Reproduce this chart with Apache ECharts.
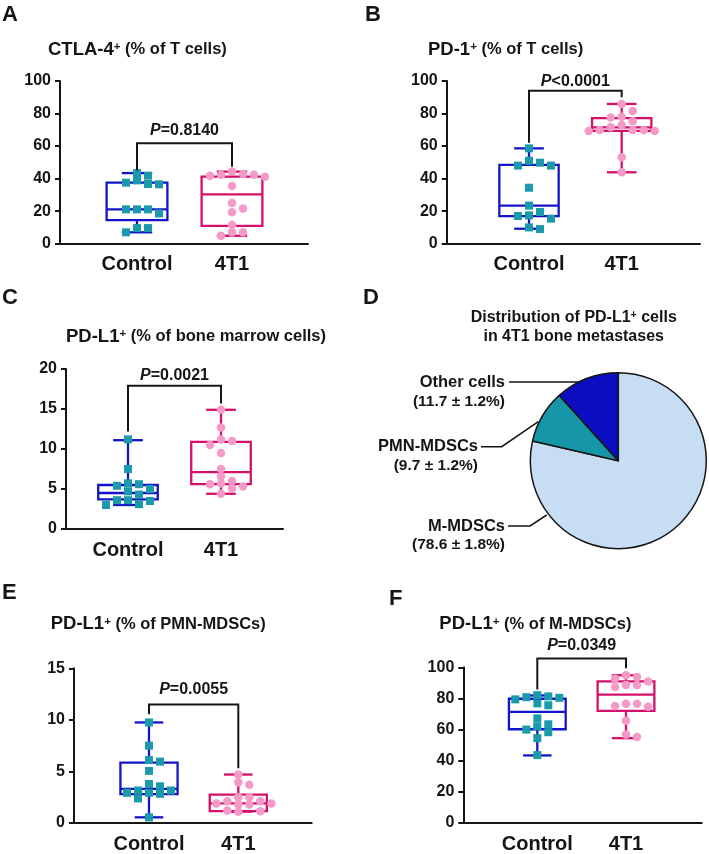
<!DOCTYPE html>
<html><head><meta charset="utf-8">
<script src="https://cdn.jsdelivr.net/npm/echarts@6/dist/echarts.min.js"></script>
<style>html,body{margin:0;padding:0;background:#fff}#c{width:709px;height:854px}</style>
</head><body><div id="c"></div>
<script>
// ---------------- DATA ----------------
const groups = ['Control', '4T1'];

// Panel A: CTLA-4+ (% of T cells)
const aTicks = [0, 20, 40, 60, 80, 100];
const aControl = [43.4, 41.8, 38.9, 37.5, 36.7, 36.5, 21.1, 21.1, 21.1, 18.6, 9.6, 9.6, 7.0];
const a4T1 = [44.3, 42.8, 42.4, 42.4, 41.8, 41.2, 35.5, 25.0, 21.7, 19.3, 11.5, 7.0, 7.0, 4.9];
const aBoxControl = [7.0, 14.5, 21.1, 37.5, 43.4];   // min, q1, median, q3, max
const aBox4T1 = [4.9, 10.9, 30.3, 41.2, 44.3];
const aBracket = [45, 61.7, 47.3];
const aP = '=0.8140';

// Panel B: PD-1+ (% of T cells)
const bTicks = [0, 20, 40, 60, 80, 100];
const bControl = [58.6, 51.0, 49.8, 48.0, 48.0, 34.4, 23.4, 19.5, 17.4, 17.0, 15.4, 10.0, 9.0];
const b4T1 = [85.9, 81.6, 78.1, 77.5, 75.2, 73.0, 71.5, 69.9, 69.9, 69.9, 69.3, 69.3, 53.1, 43.9];
const bBoxControl = [9.2, 17.0, 23.4, 48.4, 58.6];
const bBox4T1 = [43.9, 69.3, 71.5, 77.2, 85.9];
const bBracket = [62, 94, 90];
const bP = '<0.0001';

// Panel C: PD-L1+ (% of bone marrow cells)
const cTicks = [0, 5, 10, 15, 20];
const cControl = [11.2, 7.5, 5.7, 5.6, 5.4, 5.0, 4.7, 4.3, 3.6, 3.6, 3.5, 3.1, 3.0];
const c4T1 = [14.9, 12.7, 11.2, 11.0, 10.5, 9.5, 7.5, 6.6, 6.0, 5.7, 5.6, 5.3, 5.1, 4.4];
const cBoxControl = [3.0, 3.7, 4.5, 5.5, 11.1];
const cBox4T1 = [4.4, 5.6, 7.1, 10.9, 14.9];
const cBracket = [12.2, 17.9, 15.7];
const cP = '=0.0021';

// Panel D: distribution of PD-L1+ cells
const pieNames = ['M-MDSCs', 'PMN-MDSCs', 'Other cells'];
const pieValues = [78.6, 9.7, 11.7];
const pieSD = [1.8, 1.2, 1.2];

// Panel E: PD-L1+ (% of PMN-MDSCs)
const eTicks = [0, 5, 10, 15];
const eControl = [9.75, 7.5, 6.1, 5.95, 5.05, 3.78, 3.56, 3.15, 3.15, 2.93, 2.93, 2.83, 2.38, 0.54];
const e4T1 = [4.7, 3.95, 3.7, 2.5, 2.5, 2.1, 2.1, 1.9, 1.9, 1.8, 1.8, 1.2, 1.15, 1.1];
const eBoxControl = [0.55, 2.8, 3.3, 5.85, 9.75];
const eBox4T1 = [1.1, 1.15, 1.9, 2.75, 4.7];
const eBracket = [10.55, 11.5, 5.3];
const eP = '=0.0055';

// Panel F: PD-L1+ (% of M-MDSCs)
const fTicks = [0, 20, 40, 60, 80, 100];
const fControl = [82.1, 81.3, 80.8, 80.4, 79.4, 76.8, 75.6, 67.2, 63.4, 62.1, 60.0, 58.3, 54.5, 43.6];
const f4T1 = [94.9, 93.7, 92.6, 90.9, 88.6, 88.6, 87.4, 76.6, 76.6, 75.2, 74.7, 65.7, 56.8, 55.2];
const fBoxControl = [43.4, 60.2, 71.4, 79.8, 81.9];
const fBox4T1 = [54.5, 72.0, 82.5, 90.9, 94.9];
const fBracket = [85.7, 105.7, 99.4];
const fP = '=0.0349';

// ---------------- STYLE / LAYOUT ----------------
const FF = '"Liberation Sans", Arial, Helvetica, sans-serif';
const INK = '#151515';
const CTRL_LINE = '#1414c8', CTRL_PT = '#1a9aaa';
const T_LINE = '#d5106b', T_PT = '#f59ac8';
const PIE_COLORS = ['#c7ddf4', '#1597a9', '#0c0cc0'];

const panels = [
  {letter: 'A', lx: 2, ly: 14.5, title: ['CTLA-4', ' (% of T cells)'], tx: 48, ty: 49.7,
   ctrl: aControl, tum: a4T1, boxC: aBoxControl, boxT: aBox4T1, br: aBracket, p: aP, gap: 13, ticks: aTicks,
   grid: {left: 60, top: 81, width: 248, height: 162.7}, x0: 77, step: 95},
  {letter: 'B', lx: 365, ly: 14.5, title: ['PD-1', ' (% of T cells)'], tx: 428, ty: 49.7,
   ctrl: bControl, tum: b4T1, boxC: bBoxControl, boxT: bBox4T1, br: bBracket, p: bP, gap: 9.5, ticks: bTicks,
   grid: {left: 446.7, top: 81, width: 253.3, height: 162.7}, x0: 82.3, step: 92.7},
  {letter: 'C', lx: 2, ly: 297.5, title: ['PD-L1', ' (% of bone marrow cells)'], tx: 66, ty: 336.7,
   ctrl: cControl, tum: c4T1, boxC: cBoxControl, boxT: cBox4T1, br: cBracket, p: cP, gap: 10, ticks: cTicks,
   grid: {left: 66, top: 369, width: 217, height: 160}, x0: 62, step: 93},
  {letter: 'E', lx: 2, ly: 593.3, title: ['PD-L1', ' (% of PMN-MDSCs)'], tx: 50.7, ty: 624,
   ctrl: eControl, tum: e4T1, boxC: eBoxControl, boxT: eBox4T1, br: eBracket, p: eP, gap: 14.5, ticks: eTicks,
   grid: {left: 74, top: 668.3, width: 237.7, height: 157.4}, x0: 75, step: 89.3},
  {letter: 'F', lx: 389, ly: 598.8, title: ['PD-L1', ' (% of M-MDSCs)'], tx: 439.3, ty: 624,
   ctrl: fControl, tum: f4T1, boxC: fBoxControl, boxT: fBox4T1, br: fBracket, p: fP, gap: 13.3, ticks: fTicks,
   grid: {left: 463.3, top: 667.3, width: 238.4, height: 158.4}, x0: 74, step: 88.7}
];

const BOX_W = 0.64;     // in category spacing units
const CAP_RATIO = 0.5;

// beeswarm-like horizontal spreading (layout only)
function swarm(vals, cx, pxX, pxY, step, thr) {
  const order = vals.map((v, i) => i).sort((a, b) => vals[b] - vals[a]);
  const placed = [], out = new Array(vals.length);
  for (const i of order) {
    const py = vals[i] * pxY;
    for (let k = 0; k < 60; k++) {
      const m = k === 0 ? 0 : (k % 2 ? Math.ceil(k / 2) : -k / 2);
      const px = m * step;
      if (placed.every(q => Math.abs(q[0] - px) >= step * 0.9 || Math.abs(q[1] - py) >= thr)) {
        placed.push([px, py]);
        out[i] = [cx + px / pxX, vals[i]];
        break;
      }
    }
  }
  return out;
}

function boxRenderer(color) {
  return function (params, api) {
    const x = api.value(0);
    const pLo = api.coord([x, api.value(1)]);
    const pQ1 = api.coord([x, api.value(2)]);
    const pMd = api.coord([x, api.value(3)]);
    const pQ3 = api.coord([x, api.value(4)]);
    const pHi = api.coord([x, api.value(5)]);
    const hw = api.size([BOX_W, 0])[0] / 2;
    const cw = hw * CAP_RATIO;
    const cx = pMd[0];
    const st = {stroke: color, lineWidth: 2.3, fill: 'none'};
    return {type: 'group', children: [
      {type: 'line', shape: {x1: cx, y1: pQ3[1], x2: cx, y2: pHi[1]}, style: st},
      {type: 'line', shape: {x1: cx, y1: pQ1[1], x2: cx, y2: pLo[1]}, style: st},
      {type: 'line', shape: {x1: cx - cw, y1: pHi[1], x2: cx + cw, y2: pHi[1]}, style: st},
      {type: 'line', shape: {x1: cx - cw, y1: pLo[1], x2: cx + cw, y2: pLo[1]}, style: st},
      {type: 'rect', shape: {x: cx - hw, y: pQ3[1], width: 2 * hw, height: pQ1[1] - pQ3[1]}, style: st},
      {type: 'line', shape: {x1: cx - hw, y1: pMd[1], x2: cx + hw, y2: pMd[1]}, style: st}
    ]};
  };
}

const pRich = {
  i: {fontSize: 16, fontWeight: 'bold', fontStyle: 'italic', fontFamily: FF, fill: INK},
  n: {fontSize: 16, fontWeight: 'bold', fontFamily: FF, fill: INK}
};

function bracketRenderer(pText, gap) {
  return function (params, api) {
    const pL = api.coord([api.value(0), api.value(1)]);
    const pT1 = api.coord([api.value(0), api.value(2)]);
    const pT2 = api.coord([api.value(3), api.value(2)]);
    const pR = api.coord([api.value(3), api.value(4)]);
    return {type: 'group', children: [
      {type: 'polyline', shape: {points: [pL, pT1, pT2, pR]}, style: {stroke: INK, lineWidth: 2, fill: 'none'}},
      {type: 'text', style: {text: '{i|P}{n|' + pText + '}', rich: pRich,
        x: (pT1[0] + pT2[0]) / 2, y: pT1[1] - gap, align: 'center', verticalAlign: 'middle'}}
    ]};
  };
}

const grids = [], xAxes = [], yAxes = [], series = [], graphics = [];

const titleRich = {
  a: {fontSize: 18.5, fontWeight: 'bold', fontFamily: FF, fill: INK, lineHeight: 22},
  s: {fontSize: 11.5, fontWeight: 'bold', fontFamily: FF, fill: INK, padding: [0, 0, 5, 0]},
  b: {fontSize: 16.5, fontWeight: 'bold', fontFamily: FF, fill: INK, lineHeight: 22}
};

panels.forEach((P, gi) => {
  grids.push(Object.assign({containLabel: false}, P.grid));
  const xmin = 1 - P.x0 / P.step;
  const xmax = xmin + P.grid.width / P.step;
  xAxes.push({
    type: 'value', gridIndex: gi, min: xmin, max: xmax,
    axisLine: {show: true, onZero: false, lineStyle: {color: INK, width: 2}},
    axisTick: {show: false}, splitLine: {show: false},
    axisLabel: {customValues: [1, 2], formatter: v => groups[Math.round(v) - 1] || '',
      fontSize: 20, fontWeight: 'bold', color: INK, fontFamily: FF, margin: 11}
  });
  const ymin = P.ticks[0], ymax = P.ticks[P.ticks.length - 1];
  yAxes.push({
    type: 'value', gridIndex: gi, min: ymin, max: ymax, interval: P.ticks[1] - P.ticks[0],
    axisLine: {show: true, onZero: false, lineStyle: {color: INK, width: 2}},
    axisTick: {show: true, inside: false, length: 5, lineStyle: {color: INK, width: 2}},
    splitLine: {show: false},
    axisLabel: {fontSize: 16, fontWeight: 'bold', color: INK, fontFamily: FF, margin: 9}
  });
  const pxX = P.step, pxY = P.grid.height / (ymax - ymin);

  series.push({type: 'custom', xAxisIndex: gi, yAxisIndex: gi, silent: true, z: 2,
    renderItem: boxRenderer(CTRL_LINE), data: [[1].concat(P.boxC)]});
  series.push({type: 'custom', xAxisIndex: gi, yAxisIndex: gi, silent: true, z: 2,
    renderItem: boxRenderer(T_LINE), data: [[2].concat(P.boxT)]});
  series.push({type: 'scatter', xAxisIndex: gi, yAxisIndex: gi, silent: true, z: 3,
    symbol: 'rect', symbolSize: 8, itemStyle: {color: CTRL_PT, opacity: 1},
    data: swarm(P.ctrl, 1, pxX, pxY, 11, 7)});
  series.push({type: 'scatter', xAxisIndex: gi, yAxisIndex: gi, silent: true, z: 3,
    symbol: 'circle', symbolSize: 8.5, itemStyle: {color: T_PT, opacity: 1},
    data: swarm(P.tum, 2, pxX, pxY, 11, 7)});
  series.push({type: 'custom', xAxisIndex: gi, yAxisIndex: gi, silent: true, z: 4, clip: false,
    renderItem: bracketRenderer(P.p, P.gap), data: [[1, P.br[0], P.br[1], 2, P.br[2]]]});

  graphics.push({type: 'text', style: {text: P.letter, x: P.lx, y: P.ly,
    fontSize: 22, fontWeight: 'bold', fontFamily: FF, fill: INK, verticalAlign: 'middle'}});
  graphics.push({type: 'text', style: {text: '{a|' + P.title[0] + '}{s|+}{b|' + P.title[1] + '}',
    rich: titleRich, x: P.tx, y: P.ty, verticalAlign: 'middle'}});
});

// Panel D letter and title
graphics.push({type: 'text', style: {text: 'D', x: 363, y: 297.5,
  fontSize: 22, fontWeight: 'bold', fontFamily: FF, fill: INK, verticalAlign: 'middle'}});
graphics.push({type: 'text', style: {
  text: '{t|Distribution of PD-L1}{s|+}{t| cells}\n{t|in 4T1 bone metastases}',
  rich: {
    t: {fontSize: 16, fontWeight: 'bold', fontFamily: FF, fill: INK, lineHeight: 18.5},
    s: {fontSize: 10.5, fontWeight: 'bold', fontFamily: FF, fill: INK, padding: [0, 0, 5, 0]}
  },
  x: 573.7, y: 327, align: 'center', verticalAlign: 'middle'}});

// label placement for pie (layout only)
const pieLabelPos = [
  {x: 505, y: 526, line: [[546.7, 515], [530, 526], [508, 526]]},
  {x: 478, y: 446.7, line: [[538.3, 421.7], [501.7, 446.7], [481, 446.7]]},
  {x: 505, y: 382.5, line: [[582.5, 384], [580, 382], [509, 382]]}
];

series.push({
  type: 'pie', center: [618.3, 460.7], radius: 88, startAngle: 90, clockwise: true,
  silent: true, avoidLabelOverlap: false,
  itemStyle: {borderColor: INK, borderWidth: 1.5},
  data: pieNames.map((n, i) => ({name: n, value: pieValues[i], itemStyle: {color: PIE_COLORS[i]}})),
  label: {
    show: true, position: 'outside',
    formatter: p => '{n|' + p.name + '}\n{v|(' + p.value + ' \u00b1 ' + pieSD[p.dataIndex] + '%)}',
    rich: {
      n: {fontSize: 16.5, fontWeight: 'bold', fontFamily: FF, color: INK, lineHeight: 19, align: 'right'},
      v: {fontSize: 15.5, fontWeight: 'bold', fontFamily: FF, color: INK, lineHeight: 19, align: 'right'}
    }
  },
  labelLine: {show: true, lineStyle: {color: INK, width: 1.5}},
  labelLayout: function (params) {
    const L = pieLabelPos[params.dataIndex];
    return {x: L.x, y: L.y - 9.5, align: 'right', verticalAlign: 'top', labelLinePoints: L.line};
  },
  emphasis: {disabled: true}
});

const chart = echarts.init(document.getElementById('c'), null, {renderer: 'canvas'});
chart.setOption({
  animation: false,
  backgroundColor: '#ffffff',
  grid: grids, xAxis: xAxes, yAxis: yAxes, series: series, graphic: graphics
});
</script></body></html>
